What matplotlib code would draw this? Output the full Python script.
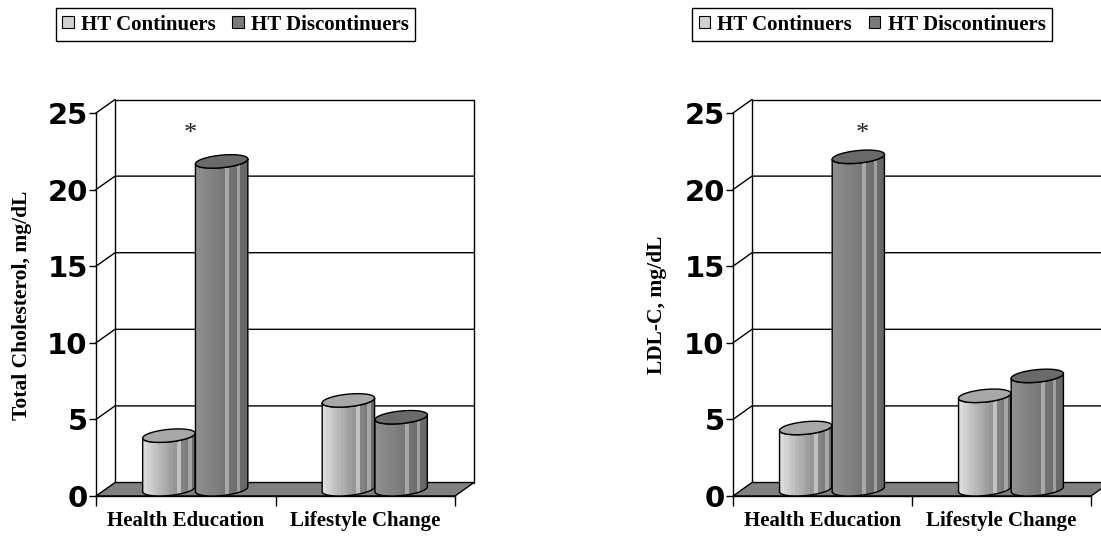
import numpy as np
import matplotlib.pyplot as plt
from matplotlib.patches import Polygon, Patch

# data
categories = ['Health Education', 'Lifestyle Change']
series_names = ['HT Continuers', 'HT Discontinuers']
tc_continuers = [3.5, 5.8]
tc_discontinuers = [21.4, 4.7]
ldl_continuers = [4.0, 6.1]
ldl_discontinuers = [21.7, 7.4]
y_ticks = [0, 5, 10, 15, 20, 25]

W, H = 1101, 540
DX, DY = 0.106, 0.88        # depth offset of the 3d box, data units
HALF_W = 0.136              # cylinder radius along x
OFFS = [-0.147, 0.147]      # series offsets inside a category

SERIF = 'Liberation Serif'


def shade(light, dark, n=14, streaks=()):
    cols = np.linspace(light, dark, n)
    for k in streaks:
        cols[k] = min(cols[k] + 0.2, 0.85)
    return np.dstack([cols] * 3)


BODY = [shade(0.86, 0.42, 14, (9, 12)), shade(0.56, 0.40, 14, (8, 11))]
TOPS = ['#a8a8a8', '#6a6a6a']
LEG = ['#d0d0d0', '#7a7a7a']


def cylinder(ax, cx, value, body, top_color, z):
    b, h = DX / 2, DY / 2
    phi = np.arctan2(b, HALF_W)
    t = np.linspace(phi + np.pi, phi + 2 * np.pi, 60)
    xs = cx + HALF_W * np.cos(t) + b * np.sin(t)
    ys = h * np.sin(t)
    y0, y1 = DY / 2, value + DY / 2
    side = np.r_[np.c_[xs, y0 + ys], np.c_[xs[::-1], y1 + ys[::-1]]]
    outline = Polygon(side, closed=True, fc='none', ec='black', lw=1, zorder=z + 0.2)
    ax.add_patch(outline)
    ext = np.hypot(HALF_W, b)
    im = ax.imshow(body, extent=(cx - ext, cx + ext, 0, y1), aspect='auto',
                   interpolation='nearest', origin='lower', zorder=z)
    im.set_clip_path(outline)
    tt = np.linspace(0, 2 * np.pi, 120)
    top = np.c_[cx + HALF_W * np.cos(tt) + b * np.sin(tt), y1 + h * np.sin(tt)]
    ax.add_patch(Polygon(top, closed=True, fc=top_color, ec='black', lw=1, zorder=z + 0.3))


def panel(fig, left_px, width_px, ylabel, ylabel_x, cont, disc, star_x, legend_x):
    ax = fig.add_axes([left_px / W, (H - 496) / H, width_px / W, 383 / H])
    ax.set_facecolor('none')
    for s in ['top', 'right']:
        ax.spines[s].set_visible(False)
    for s in ['left', 'bottom']:
        ax.spines[s].set_linewidth(1)

    # floor and back wall
    ax.add_patch(Polygon([(0, 0), (2, 0), (2 + DX, DY), (DX, DY)], closed=True,
                         fc='#808080', ec='black', lw=1, zorder=1, clip_on=False))
    ax.plot([DX, DX, 2 + DX, 2 + DX], [DY, 25 + DY, 25 + DY, DY],
            color='black', lw=1, clip_on=False, zorder=0.5)
    for v in y_ticks[1:-1]:
        ax.plot([0, DX, 2 + DX], [v, v + DY, v + DY], color='black', lw=1,
                clip_on=False, zorder=0.5)
    ax.plot([0, DX], [25, 25 + DY], color='black', lw=1, clip_on=False, zorder=0.5)

    z = 2
    for i in range(len(categories)):
        for j, vals in enumerate([cont, disc]):
            cylinder(ax, i + 0.5 + DX / 2 + OFFS[j], vals[i], BODY[j], TOPS[j], z)
            z += 1

    ax.text(star_x, 23.6, '*', fontsize=19, family=SERIF, ha='center', va='center',
            color='#222222')

    ax.set_xlim(0, 2)
    ax.set_ylim(0, 25)
    ax.set_yticks(y_ticks)
    ax.tick_params(axis='y', length=5, width=1, pad=1, labelsize=21)
    for lab in ax.get_yticklabels():
        lab.set_fontfamily('DejaVu Sans')
        lab.set_fontweight('bold')
    ax.set_xticks([0, 1, 2])
    ax.set_xticklabels([])
    ax.tick_params(axis='x', which='major', length=7, width=1)
    ax.set_xticks([0.5, 1.5], minor=True)
    ax.set_xticklabels(categories, minor=True, family=SERIF, fontweight='bold', fontsize=15)
    ax.tick_params(axis='x', which='minor', length=0, pad=11)

    fig.text(ylabel_x / W, 1 - 305 / H, ylabel, rotation=90, ha='center', va='center',
             family=SERIF, fontweight='bold', fontsize=15.5)

    handles = [Patch(facecolor=LEG[k], edgecolor='black', lw=0.8) for k in range(2)]
    leg = fig.legend(handles, series_names, loc='center',
                     bbox_to_anchor=(legend_x / W, 1 - 24.5 / H), ncol=2,
                     prop=dict(family=SERIF, weight='bold', size=15),
                     frameon=True, fancybox=False, edgecolor='black', framealpha=1,
                     handlelength=0.55, handleheight=0.55, handletextpad=0.35,
                     columnspacing=0.8, borderpad=0.3)
    leg.get_frame().set_linewidth(1)
    return ax


fig = plt.figure(figsize=(W / 100, H / 100), dpi=100, facecolor='white')
panel(fig, 96, 359, 'Total Cholesterol, mg/dL', 22, tc_continuers, tc_discontinuers, 0.524, 235.5)
panel(fig, 733, 358, 'LDL-C, mg/dL', 657, ldl_continuers, ldl_discontinuers, 0.72, 872)
fig.savefig('out.png', dpi=100, facecolor='white')
